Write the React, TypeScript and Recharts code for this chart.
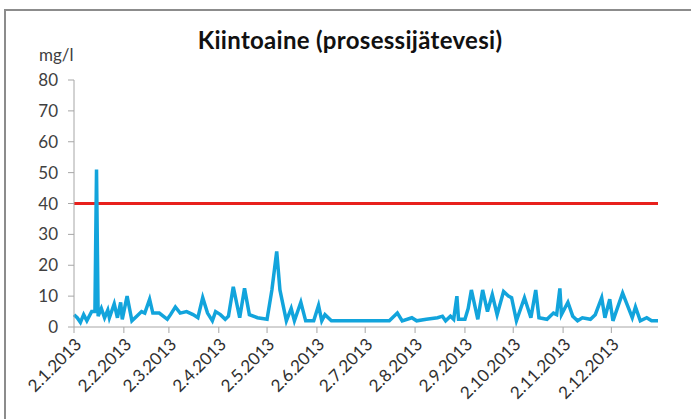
import { CartesianGrid, Line, LineChart, ReferenceLine, XAxis, YAxis } from "recharts";

// sample day = days after 2.1.2013
const sampleDay = [
  0, 2, 4, 6, 8, 11, 13, 14, 15, 17, 19, 21, 22, 25, 27, 29, 30, 33, 36, 39,
  42, 44, 47, 49, 53, 58, 60, 63, 66, 70, 74, 77, 80, 83, 86, 88, 91, 94, 96, 99,
  103, 106, 109, 114, 120, 123, 126, 128, 132, 135, 137, 141, 144, 149, 152, 154, 156, 160, 196, 201,
  204, 210, 213, 219, 226, 229, 231, 234, 236, 238, 239, 243, 245, 247, 251, 254, 257, 260, 263, 267,
  270, 272, 275, 280, 284, 287, 289, 294, 298, 300, 302, 303, 307, 310, 313, 316, 321, 324, 328, 330,
  333, 335, 341, 344, 347, 349, 352, 356, 359, 363,
];
const kiintoaine = [
  4, 3, 1.5, 4, 2, 5, 5, 51, 3.5, 6, 3, 5.5, 3, 7.5, 3, 8, 2.5, 10, 2, 3.5,
  5, 4.5, 9, 4.5, 4.5, 2.5, 4, 6.5, 4.5, 5, 4, 3, 9.5, 4.5, 2, 5, 4, 2.5, 3.5, 13,
  3, 12.5, 4, 3, 2.5, 12, 24.5, 12, 2, 6, 2, 8, 2, 2, 7, 2, 4, 2, 2, 4.5,
  2, 3, 2, 2.5, 3, 3.5, 2, 3.5, 2.5, 10, 2.5, 2.5, 6, 12, 2.5, 12, 5, 10.5, 4, 11.5,
  10, 9.5, 2, 9.5, 3, 12, 3, 2.5, 4.5, 4, 12.5, 4, 8, 3.5, 2, 3, 2.5, 4, 9.5, 3,
  9, 2, 11, 7, 3, 6.5, 2, 3, 2, 2,
];
const raja = 40; // limit value, mg/l

const tickLabels = [
  "2.1.2013", "2.2.2013", "2.3.2013", "2.4.2013", "2.5.2013", "2.6.2013",
  "2.7.2013", "2.8.2013", "2.9.2013", "2.10.2013", "2.11.2013", "2.12.2013",
];
const yTicks = [0, 10, 20, 30, 40, 50, 60, 70, 80];

const dayOf = (label: string) => {
  const [d, m, y] = label.split(".").map(Number);
  return Math.round((Date.UTC(y, m - 1, d) - Date.UTC(2013, 0, 2)) / 86400000);
};
const tickDays = tickLabels.map(dayOf);
const labelByDay: Record<number, string> = {};
tickDays.forEach((d, i) => (labelByDay[d] = tickLabels[i]));

const data = sampleDay.map((day, i) => ({ day, value: kiintoaine[i] }));

const font = "Lato, 'Open Sans', sans-serif";

export default function App() {
  return (
    <div style={{ position: "absolute", left: 0, top: 0, width: 691, height: 419, background: "#fff", overflow: "hidden", fontFamily: font }}>
      {/* frame of the pasted excel chart */}
      <div
        style={{
          position: "absolute", left: 4, top: 9, width: 720, height: 408,
          borderLeft: "2px solid #8c8c8c", borderTop: "2px solid #8c8c8c", borderBottom: "1px solid #e4e4e4",
        }}
      />
      <div style={{ position: "absolute", left: 0, top: 25, width: 700, textAlign: "center", fontWeight: 700, fontSize: 24, color: "#111", letterSpacing: 0.3 }}>
        Kiintoaine (prosessijätevesi)
      </div>
      <div style={{ position: "absolute", left: 39, top: 44, fontSize: 17, color: "#404040" }}>mg/l</div>

      <div style={{ position: "absolute", left: 0, top: 0 }}>
        <LineChart width={691} height={419} data={data} margin={{ top: 80, right: 33, left: 0, bottom: 0 }}>
          <CartesianGrid stroke="none" />
          <XAxis
            dataKey="day"
            type="number"
            domain={[0, 363]}
            ticks={tickDays}
            interval={0}
            tickFormatter={(v: number) => labelByDay[v] ?? ""}
            angle={-45}
            textAnchor="end"
            height={92}
            tickSize={6}
            tickMargin={4}
            tick={{ fontSize: 17, fill: "#303030", fontFamily: font }}
            axisLine={{ stroke: "#a6a6a6" }}
            tickLine={{ stroke: "#a6a6a6" }}
          />
          <YAxis
            domain={[0, 80]}
            ticks={yTicks}
            width={74}
            tickSize={6}
            tickMargin={10}
            tick={{ fontSize: 17, fill: "#404040", fontFamily: font }}
            axisLine={{ stroke: "#a6a6a6" }}
            tickLine={{ stroke: "#a6a6a6" }}
          />
          <ReferenceLine y={raja} stroke="#e8201c" strokeWidth={3} />
          <Line
            type="linear"
            dataKey="value"
            stroke="#12a4dc"
            strokeWidth={3.5}
            dot={false}
            isAnimationActive={false}
          />
        </LineChart>
      </div>
    </div>
  );
}
